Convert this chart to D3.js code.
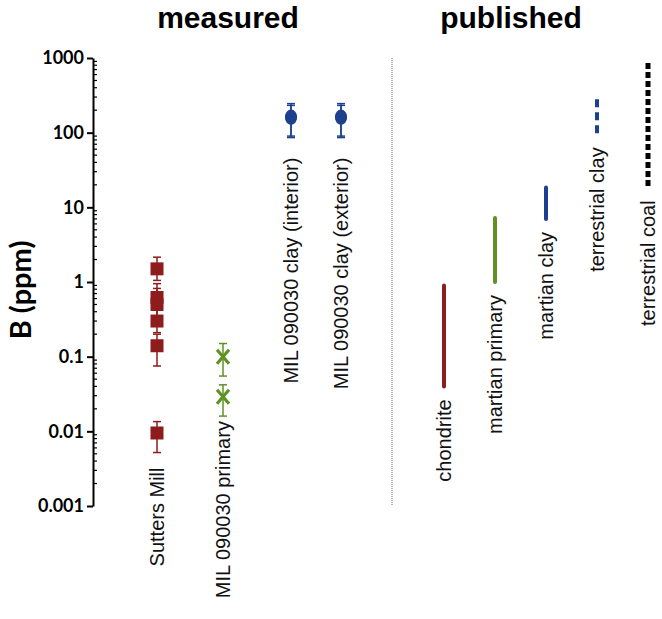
<!DOCTYPE html>
<html>
<head>
<meta charset="utf-8">
<script src="https://cdn.jsdelivr.net/npm/d3@7"></script>
<style>
  body { margin: 0; background: #fff; }
  svg { display: block; }
</style>
</head>
<body>
<div id="chart"></div>
<script>
// ---- data ----
const measuredCategories = ['Sutters Mill', 'MIL 090030 primary', 'MIL 090030 clay (interior)', 'MIL 090030 clay (exterior)']
const publishedCategories = ['chondrite', 'martian primary', 'martian clay', 'terrestrial clay', 'terrestrial coal']
const yTickValues = [0.001, 0.01, 0.1, 1, 10, 100, 1000]
const yTickLabels = ['0.001', '0.01', '0.1', '1', '10', '100', '1000']

// measured points: [value, lower error, upper error]
const suttersMill = [
  [1.5, 1.05, 2.15],
  [0.62, 0.43, 0.95],
  [0.5, 0.35, 0.82],
  [0.3, 0.21, 0.42],
  [0.14, 0.075, 0.2],
  [0.0095, 0.0052, 0.0135]
]
const milPrimary = [
  [0.1, 0.055, 0.15],
  [0.029, 0.016, 0.042]
]
const milClayInterior = [
  [158, 86, 232],
  [164, 90, 245]
]
const milClayExterior = [
  [158, 86, 232],
  [164, 90, 245]
]

// published ranges: [min, max]
const chondriteRange = [0.04, 0.9]
const martianPrimaryRange = [1, 7.2]
const martianClayRange = [7, 18.5]
const terrestrialClayRange = [95, 280]
const terrestrialCoalRange = [18.5, 860]

// ---- layout ----
const width = 662
const height = 619
const colors = { red: '#8e1c1c', green: '#5f9125', blue: '#1c3f8e', black: '#000' }

const svg = d3.select('#chart').append('svg')
  .attr('width', width)
  .attr('height', height)

const y = d3.scaleLog().domain([0.001, 1000]).range([506, 58])

const xMeasured = d3.scaleOrdinal()
  .domain(measuredCategories)
  .range([157, 223, 291, 341])

const xPublished = d3.scalePoint()
  .domain(publishedCategories)
  .range([444, 648])

// y axis
const axisX = 93
const axis = svg.append('g')
  .attr('transform', `translate(${axisX},0)`)
  .call(d3.axisLeft(y)
    .tickValues(yTickValues)
    .tickFormat((d, i) => yTickLabels[i])
    .tickSize(6)
    .tickSizeOuter(0))
axis.select('.domain').attr('stroke-width', 2).attr('stroke', '#000')
axis.selectAll('.tick line').attr('stroke-width', 2)
axis.selectAll('.tick text')
  .attr('x', -9)
  .attr('font-family', 'Lato, sans-serif')
  .attr('font-weight', 'bold')
  .attr('font-size', 18)
  .attr('fill', '#000')

// minor ticks on the right side of the axis
const minorTicks = []
for (let e = -3; e < 3; e++) {
  for (let m = 2; m <= 9; m++) minorTicks.push(m * Math.pow(10, e))
}
svg.append('g').selectAll('line')
  .data(minorTicks)
  .join('line')
  .attr('x1', axisX)
  .attr('x2', axisX + 4)
  .attr('y1', d => y(d))
  .attr('y2', d => y(d))
  .attr('stroke', '#000')
  .attr('stroke-width', 1.2)

// axis title
svg.append('text')
  .attr('transform', `translate(31,${(y(1000) + y(0.001)) / 2 + 8}) rotate(-90)`)
  .attr('text-anchor', 'middle')
  .attr('font-family', 'Lato, sans-serif')
  .attr('font-weight', 'bold')
  .attr('font-size', 29)
  .text('B (ppm)')

// section titles
svg.append('g').selectAll('text')
  .data([['measured', 228], ['published', 511]])
  .join('text')
  .attr('x', d => d[1])
  .attr('y', 28)
  .attr('text-anchor', 'middle')
  .attr('font-family', '"Liberation Sans", Arial, sans-serif')
  .attr('font-weight', 'bold')
  .attr('font-size', 30)
  .text(d => d[0])

// separator
svg.append('line')
  .attr('x1', 392).attr('x2', 392)
  .attr('y1', y(1000)).attr('y2', y(0.001))
  .attr('stroke', '#666')
  .attr('stroke-width', 1)
  .attr('stroke-dasharray', '1,1')

// ---- measured series ----
const measuredSeries = [
  { cat: measuredCategories[0], pts: suttersMill, color: colors.red, shape: 'square', gap: 15 },
  { cat: measuredCategories[1], pts: milPrimary, color: colors.green, shape: 'cross', gap: 5 },
  { cat: measuredCategories[2], pts: milClayInterior, color: colors.blue, shape: 'circle', gap: 20 },
  { cat: measuredCategories[3], pts: milClayExterior, color: colors.blue, shape: 'circle', gap: 20 }
]

measuredSeries.forEach(s => {
  const cx = xMeasured(s.cat)
  const g = svg.append('g')

  // error bars
  const eb = g.selectAll('g.err').data(s.pts).join('g').attr('class', 'err')
  eb.append('line')
    .attr('x1', cx).attr('x2', cx)
    .attr('y1', d => y(d[1])).attr('y2', d => y(d[2]))
    .attr('stroke', s.color).attr('stroke-width', 1.5)
  eb.selectAll('line.cap').data(d => [d[1], d[2]]).join('line')
    .attr('class', 'cap')
    .attr('x1', cx - 4).attr('x2', cx + 4)
    .attr('y1', d => y(d)).attr('y2', d => y(d))
    .attr('stroke', s.color).attr('stroke-width', 1.5)

  // markers
  if (s.shape === 'square') {
    g.selectAll('rect.mk').data(s.pts).join('rect')
      .attr('class', 'mk')
      .attr('x', cx - 6.5).attr('y', d => y(d[0]) - 6.5)
      .attr('width', 13).attr('height', 13)
      .attr('fill', s.color)
  } else if (s.shape === 'circle') {
    g.selectAll('ellipse.mk').data(s.pts).join('ellipse')
      .attr('class', 'mk')
      .attr('cx', cx).attr('cy', d => y(d[0]))
      .attr('rx', 6).attr('ry', 7)
      .attr('fill', s.color)
  } else {
    g.selectAll('path.mk').data(s.pts).join('path')
      .attr('class', 'mk')
      .attr('d', d => {
        const cy = y(d[0])
        return `M${cx - 6},${cy - 7}L${cx + 6},${cy + 7}M${cx + 6},${cy - 7}L${cx - 6},${cy + 7}`
      })
      .attr('stroke', s.color).attr('stroke-width', 3.2)
      .attr('fill', 'none')
  }

  // label
  const lowest = d3.min(s.pts, d => d[1])
  svg.append('text')
    .attr('transform', `translate(${cx},${y(lowest) + s.gap}) rotate(-90)`)
    .attr('dy', '0.35em')
    .attr('text-anchor', 'end')
    .attr('font-family', '"Liberation Sans", Arial, sans-serif')
    .attr('font-size', 20)
    .attr('fill', '#111')
    .text(s.cat)
})

// ---- published ranges ----
const publishedSeries = [
  { cat: publishedCategories[0], range: chondriteRange, color: colors.red, dash: null, w: 4 },
  { cat: publishedCategories[1], range: martianPrimaryRange, color: colors.green, dash: null, w: 4 },
  { cat: publishedCategories[2], range: martianClayRange, color: colors.blue, dash: null, w: 4 },
  { cat: publishedCategories[3], range: terrestrialClayRange, color: colors.blue, dash: '8,5', w: 4 },
  { cat: publishedCategories[4], range: terrestrialCoalRange, color: colors.black, dash: '6,3', w: 5 }
]

const pub = svg.append('g').selectAll('g')
  .data(publishedSeries)
  .join('g')

pub.append('line')
  .attr('x1', d => xPublished(d.cat)).attr('x2', d => xPublished(d.cat))
  .attr('y1', d => y(d.range[1])).attr('y2', d => y(d.range[0]))
  .attr('stroke', d => d.color)
  .attr('stroke-width', d => d.w)
  .attr('stroke-linecap', d => d.dash ? 'butt' : 'round')
  .attr('stroke-dasharray', d => d.dash)

pub.append('text')
  .attr('transform', d => `translate(${xPublished(d.cat)},${y(d.range[0]) + 13}) rotate(-90)`)
  .attr('dy', '0.35em')
  .attr('text-anchor', 'end')
  .attr('font-family', '"Liberation Sans", Arial, sans-serif')
  .attr('font-size', 20)
  .attr('fill', '#111')
  .text(d => d.cat)
</script>
</body>
</html>
